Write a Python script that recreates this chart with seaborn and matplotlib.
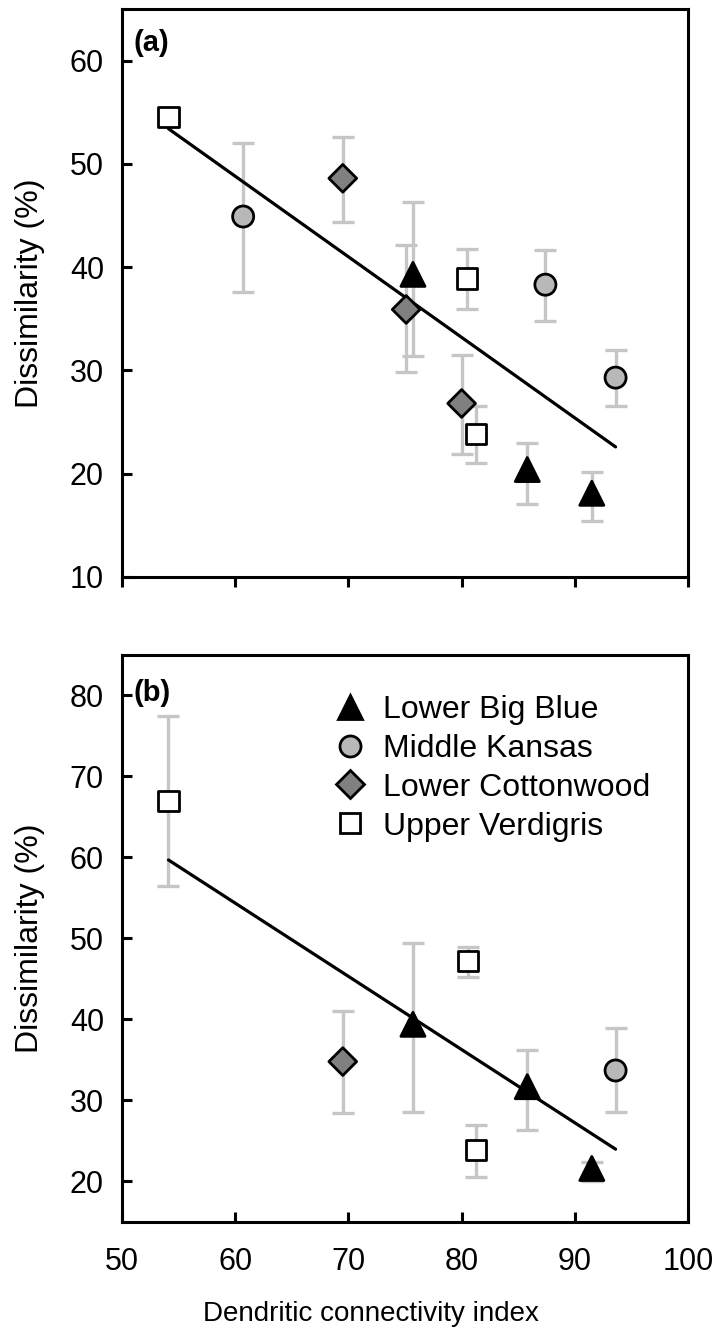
import numpy as np
import pandas as pd
import seaborn as sns
import matplotlib
matplotlib.use("Agg")
import matplotlib.pyplot as plt

sns.set_theme(style="white")
plt.rcParams['font.family'] = ['Liberation Sans', 'DejaVu Sans']
plt.rcParams['text.color'] = 'black'
plt.rcParams['axes.labelcolor'] = 'black'

# ---------------- data ----------------
sites = ['Lower Big Blue', 'Middle Kansas', 'Lower Cottonwood', 'Upper Verdigris']

# panel (a)
a_site = ['Upper Verdigris', 'Middle Kansas', 'Lower Cottonwood', 'Lower Big Blue',
          'Lower Cottonwood', 'Upper Verdigris', 'Middle Kansas', 'Middle Kansas',
          'Lower Cottonwood', 'Upper Verdigris', 'Lower Big Blue', 'Lower Big Blue']
a_dci = [54.1, 60.7, 69.5, 75.7, 75.1, 80.5, 87.4, 93.6, 80.0, 81.3, 85.8, 91.5]
a_mean = [54.5, 44.9, 48.6, 39.3, 35.9, 38.9, 38.3, 29.3, 26.8, 23.8, 20.4, 18.1]
a_lo = [54.5, 37.6, 44.4, 31.4, 29.8, 35.9, 34.8, 26.6, 21.9, 21.0, 17.1, 15.4]
a_hi = [54.5, 52.0, 52.6, 46.3, 42.1, 41.8, 41.7, 32.0, 31.5, 26.6, 23.0, 20.2]
a_fit = (95.6, -0.78)   # intercept, slope

# panel (b)
b_site = ['Upper Verdigris', 'Lower Cottonwood', 'Lower Big Blue', 'Upper Verdigris',
          'Upper Verdigris', 'Lower Big Blue', 'Middle Kansas', 'Lower Big Blue']
b_dci = [54.1, 69.5, 75.7, 80.6, 81.3, 85.8, 93.6, 91.5]
b_mean = [67.0, 34.8, 39.4, 47.2, 23.9, 31.7, 33.7, 21.6]
b_lo = [56.5, 28.5, 28.6, 45.3, 20.6, 26.4, 28.6, 20.0]
b_hi = [77.5, 41.0, 49.5, 49.0, 27.0, 36.2, 38.9, 22.4]
b_fit = (108.6, -0.904)

x_ticks = [50, 60, 70, 80, 90, 100]
a_yticks = [10, 20, 30, 40, 50, 60]
b_yticks = [20, 30, 40, 50, 60, 70, 80]

# ---------------- style ----------------
face = {'Lower Big Blue': 'black', 'Middle Kansas': '#b8b8b8',
        'Lower Cottonwood': '#808080', 'Upper Verdigris': 'white'}
marks = {'Lower Big Blue': '^', 'Middle Kansas': 'o',
         'Lower Cottonwood': 'D', 'Upper Verdigris': 's'}
sizes = {'Lower Big Blue': 300, 'Middle Kansas': 230,
         'Lower Cottonwood': 200, 'Upper Verdigris': 210}
FS = 22
ERR = '#c6c6c6'

fig = plt.figure(figsize=(7.17, 13.34), dpi=100)
ax_a = fig.add_axes([0.1702, 0.5675, 0.7894, 0.4258])
ax_b = fig.add_axes([0.1702, 0.0840, 0.7894, 0.4250])


def panel(ax, site, dci, mean, lo, hi, fit, yticks, ylim, show_legend):
    df = pd.DataFrame({'Watershed': site, 'DCI': dci, 'Dissimilarity': mean,
                       'lo': lo, 'hi': hi})
    yerr = np.vstack([df['Dissimilarity'] - df['lo'], df['hi'] - df['Dissimilarity']])
    ax.errorbar(df['DCI'], df['Dissimilarity'], yerr=yerr, fmt='none',
                ecolor=ERR, elinewidth=2.4, capsize=8, capthick=2.4, zorder=1)
    xs = np.array([min(dci), max(dci)])
    fit_df = pd.DataFrame({'DCI': xs, 'fit': fit[0] + fit[1] * xs})
    sns.lineplot(data=fit_df, x='DCI', y='fit', ax=ax, color='black',
                 linewidth=2.3, zorder=2)
    sns.scatterplot(data=df, x='DCI', y='Dissimilarity', hue='Watershed',
                    style='Watershed', size='Watershed', hue_order=sites,
                    style_order=sites, size_order=sites, palette=face,
                    markers=marks, sizes=sizes, edgecolor='black', linewidth=2.0,
                    ax=ax, zorder=3, legend=show_legend)
    ax.set_xlim(50, 100)
    ax.set_ylim(*ylim)
    ax.set_xticks(x_ticks)
    ax.set_yticks(yticks)
    ax.set_ylabel('Dissimilarity (%)', fontsize=23, labelpad=18)
    for s in ax.spines.values():
        s.set_color('black')
        s.set_linewidth(2.2)
    ax.tick_params(axis='y', direction='in', length=7, width=2.2, colors='black',
                   labelsize=FS, pad=13, left=True)


panel(ax_a, a_site, a_dci, a_mean, a_lo, a_hi, a_fit, a_yticks, (10, 65), False)
panel(ax_b, b_site, b_dci, b_mean, b_lo, b_hi, b_fit, b_yticks, (15, 85), True)

ax_a.tick_params(axis='x', direction='out', length=7, width=2.2, colors='black',
                 labelbottom=False, bottom=True)
ax_a.set_xlabel('')
ax_b.tick_params(axis='x', direction='in', length=7, width=2.2, colors='black',
                 labelsize=FS, pad=18, bottom=True)
ax_b.set_xlabel('Dendritic connectivity index', fontsize=20)
ax_b.xaxis.set_label_coords(0.44, -0.14)

ax_a.text(0.02, 0.965, '(a)', transform=ax_a.transAxes, fontsize=FS - 1,
          fontweight='bold', ha='left', va='top')
ax_b.text(0.02, 0.958, '(b)', transform=ax_b.transAxes, fontsize=FS - 1,
          fontweight='bold', ha='left', va='top')

sns.move_legend(ax_b, 'upper left', bbox_to_anchor=(0.341, 0.958), frameon=False,
                title=None, fontsize=23, handlelength=1.2, handletextpad=0.42,
                labelspacing=0.28, borderpad=0.0, markerscale=1.0)

fig.savefig('out.png', dpi=100)
